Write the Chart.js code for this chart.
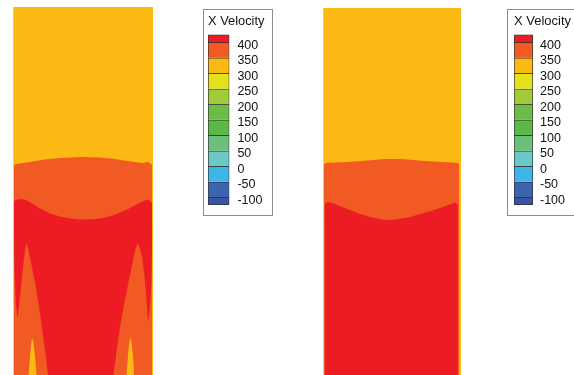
<!DOCTYPE html>
<html>
<head>
<meta charset="utf-8">
<script src="https://cdn.jsdelivr.net/npm/chart.js@4.4.1/dist/chart.umd.min.js"></script>
<style>
  html, body { margin: 0; padding: 0; background: #fff; width: 574px; height: 375px; overflow: hidden; position: relative; }
  canvas, .box { position: absolute; }
  .box { border: 1px solid #8c8c8c; box-sizing: border-box; }
</style>
</head>
<body>
<canvas id="fieldA" width="140" height="368" style="left:13px;top:7px"></canvas>
<canvas id="fieldB" width="138" height="367" style="left:323px;top:8px"></canvas>
<div class="box" style="left:203px;top:9px;width:70px;height:207px"></div>
<canvas id="keyA" width="71" height="206" style="left:203px;top:9px"></canvas>
<div class="box" style="left:507px;top:9px;width:80px;height:207px"></div>
<canvas id="keyB" width="66" height="206" style="left:508px;top:9px"></canvas>
<script>
// X Velocity colour key: band colours from the highest level down
const levelColors = ['#ED1C24', '#F15A22', '#FDB913', '#E3E11B', '#A2CB3A', '#6BBD45',
                     '#5EB847', '#6ABF7B', '#6BC8C6', '#3DB6E7', '#3C64AF', '#3853A3'];
// band edges of the key (top of first band ... bottom of last band)
const levelEdges = [425, 400, 350, 300, 250, 200, 150, 100, 50, 0, -50, -100, -125];
// labelled levels on the key
const keyTicks = [400, 350, 300, 250, 200, 150, 100, 50, 0, -50, -100];

// Domain: x across the channel width (-0.5 .. 0.5), depth measured downward in widths
const depthA = 2.629;
const depthB = 2.659;

// Case A: boundary of the 350-400 band (top edge, left to right)
const caseAUpperEdge = [[-0.5, 1.136], [-0.479, 1.121], [-0.45, 1.118], [-0.379, 1.107], [-0.271, 1.089],
  [-0.164, 1.079], [-0.007, 1.071], [0.121, 1.075], [0.229, 1.086], [0.336, 1.104], [0.429, 1.114],
  [0.457, 1.107], [0.479, 1.114], [0.493, 1.129]];

// Case A: outline of the >400 core with its two wall tongues
const caseACore = [[-0.493, 1.386], [-0.471, 1.375], [-0.436, 1.371], [-0.400, 1.382], [-0.357, 1.407],
  [-0.307, 1.439], [-0.236, 1.475], [-0.164, 1.496], [-0.093, 1.511], [-0.007, 1.518], [0.086, 1.514],
  [0.157, 1.504], [0.229, 1.482], [0.300, 1.454], [0.371, 1.418], [0.414, 1.393], [0.450, 1.379],
  [0.479, 1.382], [0.493, 1.407],
  [0.493, 1.736], [0.486, 2.021], [0.475, 2.179], [0.464, 2.250],
  [0.454, 2.093], [0.439, 1.914], [0.421, 1.786], [0.404, 1.714], [0.389, 1.693],
  [0.371, 1.743], [0.343, 1.879], [0.314, 2.021], [0.286, 2.164], [0.261, 2.307], [0.239, 2.464], [0.218, 2.629],
  [-0.25, 2.629],
  [-0.264, 2.507], [-0.286, 2.343], [-0.311, 2.164], [-0.339, 1.986], [-0.371, 1.829], [-0.393, 1.721], [-0.404, 1.686],
  [-0.414, 1.736], [-0.429, 1.864], [-0.443, 2.007], [-0.457, 2.129], [-0.468, 2.221],
  [-0.479, 2.129], [-0.489, 1.879], [-0.493, 1.593]];

// Case A: 300-350 jets rising from the outlet
const caseAJetLeft = [[-0.389, 2.629], [-0.382, 2.536], [-0.375, 2.45], [-0.368, 2.386], [-0.361, 2.364],
  [-0.354, 2.40], [-0.346, 2.464], [-0.339, 2.543], [-0.332, 2.629]];
const caseAJetRight = [[0.311, 2.629], [0.318, 2.536], [0.325, 2.45], [0.332, 2.386], [0.339, 2.357],
  [0.346, 2.393], [0.354, 2.464], [0.361, 2.543], [0.364, 2.629]];

// Case B: top edge of the 350-400 band
const caseBUpperEdge = [[-0.5, 1.134], [-0.491, 1.130], [-0.473, 1.121], [-0.317, 1.116], [-0.196, 1.107],
  [-0.051, 1.094], [0.070, 1.094], [0.215, 1.107], [0.360, 1.116], [0.469, 1.121], [0.486, 1.130]];

// Case B: top edge of the >400 core
const caseBCoreEdge = [[-0.486, 1.420], [-0.478, 1.413], [-0.462, 1.406], [-0.413, 1.420], [-0.364, 1.440],
  [-0.304, 1.464], [-0.244, 1.488], [-0.159, 1.514], [-0.051, 1.536], [0.022, 1.533], [0.118, 1.517],
  [0.203, 1.493], [0.288, 1.469], [0.348, 1.449], [0.408, 1.428], [0.457, 1.408], [0.477, 1.428]];

const font = "'Liberation Sans', Arial, Helvetica, sans-serif";
const textColor = '#111';
const wallColor = '#DDE03C';

function pts(pairs) { return pairs.map(([x, y]) => ({ x, y })); }

// an edge closed down to the outlet at the given depth
function toOutlet(edge, depth) {
  const first = edge[0], last = edge[edge.length - 1];
  return edge.concat([[last[0], depth], [first[0], depth]]);
}

function region(pairs, color, order) {
  return { data: pts(pairs), showLine: true, fill: 'shape', backgroundColor: color,
           borderColor: color, borderWidth: 0, pointRadius: 0, tension: 0, order };
}

function wall(depth, order) {
  return { data: pts([[-0.5, 0], [-0.5, depth]]), showLine: true, fill: false,
           borderColor: wallColor, borderWidth: 2, pointRadius: 0, order };
}

function fieldChart(id, depth, datasets) {
  return new Chart(document.getElementById(id), {
    type: 'scatter',
    data: { datasets },
    options: {
      responsive: false, animation: false, devicePixelRatio: 1, events: [],
      layout: { padding: 0 },
      plugins: { legend: { display: false }, tooltip: { enabled: false } },
      scales: {
        x: { type: 'linear', min: -0.5, max: 0.5, display: false },
        y: { type: 'linear', min: 0, max: depth, reverse: true, display: false }
      }
    }
  });
}

const [cCore, cUpper, cMid] = levelColors;

fieldChart('fieldA', depthA, [
  wall(depthA, 0),
  region(caseAJetLeft, cMid, 1),
  region(caseAJetRight, cMid, 1),
  region(caseACore, cCore, 2),
  region(toOutlet(caseAUpperEdge, depthA), cUpper, 3),
  region([[-0.5, 0], [0.5, 0], [0.5, depthA], [-0.5, depthA]], cMid, 4)
]);

fieldChart('fieldB', depthB, [
  wall(depthB, 0),
  region(toOutlet(caseBCoreEdge, depthB), cCore, 2),
  region(toOutlet(caseBUpperEdge, depthB), cUpper, 3),
  region([[-0.5, 0], [0.5, 0], [0.5, depthB], [-0.5, depthB]], cMid, 4)
]);

// colour key: one floating bar per band
function keyChart(id, pad, axisWidth, labelGap) {
  const last = levelColors.length - 1;
  return new Chart(document.getElementById(id), {
    type: 'bar',
    data: {
      labels: ['X Velocity'],
      datasets: levelColors.map((c, i) => ({
        data: [[levelEdges[i + 1], levelEdges[i]]],
        backgroundColor: c,
        borderColor: '#333',
        borderWidth: { top: 1, left: 1, right: 1, bottom: i === last ? 1 : 0 },
        borderSkipped: false,
        barPercentage: 1, categoryPercentage: 1, grouped: false
      }))
    },
    options: {
      responsive: false, animation: false, devicePixelRatio: 1, events: [],
      layout: { padding: pad },
      plugins: {
        legend: { display: false }, tooltip: { enabled: false },
        title: { display: true, text: 'X Velocity', color: textColor,
                 font: { family: font, size: 13, weight: 'normal' }, padding: { top: 5, bottom: 5 } }
      },
      scales: {
        x: { display: false },
        y: {
          position: 'right', min: levelEdges[levelEdges.length - 1], max: levelEdges[0],
          grid: { display: false, drawTicks: false }, border: { display: false },
          afterBuildTicks: s => { s.ticks = keyTicks.map(v => ({ value: v })); },
          afterFit: s => { s.width = axisWidth; s.paddingTop = 0; s.paddingBottom = 0; },
          ticks: { padding: labelGap, labelOffset: 3, color: textColor, autoSkip: false,
                   font: { family: font, size: 12.5 }, callback: v => String(v) }
        }
      }
    }
  });
}

keyChart('keyA', { left: 5, right: 9.6, top: 0, bottom: 10 }, 35, 8);
keyChart('keyB', { left: 6, right: 3, top: 0, bottom: 10 }, 38, 7);
</script>
</body>
</html>
